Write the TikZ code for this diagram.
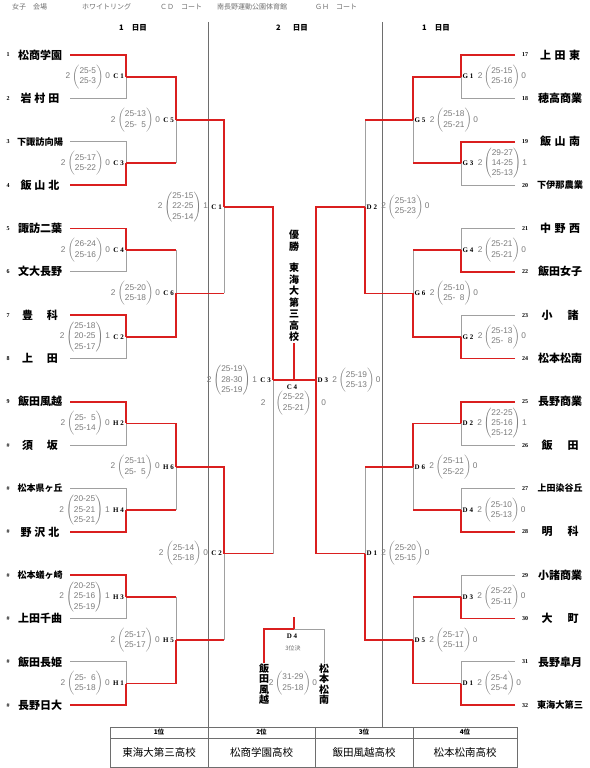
\documentclass[tikz,border=0pt]{standalone}
\usepackage{fontspec}
\setmainfont{Liberation Serif}
\setsansfont{Liberation Sans}
\newfontfamily\jp{Noto Sans CJK JP}
\usetikzlibrary{positioning}

\definecolor{winred}{HTML}{DA1F1F}
\definecolor{losegray}{HTML}{A0A0A0}
\definecolor{scoregray}{HTML}{7A7A7A}
\definecolor{rulegray}{HTML}{6E6E6E}

\newcommand\scoreblk[4][2pt]{#2\hspace{#1}$\left(\begin{tabular}{@{}c@{}}#3\end{tabular}\right)$\hspace{#1}#4}
\newcommand\tname[2]{\makebox[#1][s]{#2}}

\begin{document}
\begin{tikzpicture}[
    x=1pt, y=-1pt,
    win/.style={draw=winred, line width=1.8pt},
    lose/.style={draw=losegray, line width=1pt},
    divider/.style={draw=rulegray, line width=0.5pt},
    team/.style={inner sep=0pt},
    tnum/.style={font=\bfseries\fontsize{6}{6}\selectfont, inner sep=0pt},
    mlab/.style={font=\bfseries\fontsize{7}{7}\selectfont, inner sep=0pt},
    score/.style={font=\sffamily\fontsize{8.3}{10.3}\selectfont, text=scoregray, inner sep=0pt},
    head/.style={font=\jp\fontsize{7}{7}\selectfont, text=rulegray, inner sep=0pt, anchor=west},
    day/.style={font=\jp\bfseries\fontsize{7.5}{7.5}\selectfont, inner sep=0pt},
    vtext/.style={font=\jp\bfseries\fontsize{10}{11.5}\selectfont, align=center, inner sep=0pt},
    cellh/.style={draw=rulegray, font=\jp\bfseries\fontsize{6.5}{6.5}\selectfont, minimum height=11, inner sep=0pt},
    cell/.style={draw=rulegray, font=\jp\fontsize{10.5}{10.5}\selectfont, minimum height=29, inner sep=0pt}
]
\useasboundingbox (0,0) rectangle (589,768);

% header
\node[head] (hdr1) at (12,7) {女子　会場};
\node[head] (hdr2) at (82,7) {ホワイトリング};
\node[head] (hdr3) at (160,7) {ＣＤ　コート};
\node[head] (hdr4) at (217,7) {南長野運動公園体育館};
\node[head] (hdr5) at (315,7) {ＧＨ　コート};
\node[day] (day1) at (133,28) {1\hspace{8pt}日目};
\node[day] (day2) at (292,28) {2\hspace{12pt}日目};
\node[day] (day3) at (436,28) {1\hspace{8pt}日目};

\draw[divider] (208,22) -- (208,727);
\draw[divider] (382,22) -- (382,727);

% teams
\foreach \nm/\bw/\fs [count=\i] in {
  松商学園/44/11, 岩\hfill 村\hfill 田/39/11, 下諏訪向陽/46/9.2, 飯\hfill 山\hfill 北/39/11,
  諏訪二葉/44/11, 文大長野/44/11, 豊\hfill 科/36/11, 上\hfill 田/36/11,
  飯田風越/44/11, 須\hfill 坂/36/11, 松本県ヶ丘/45/9, 野\hfill 沢\hfill 北/39/11,
  松本蟻ヶ崎/45/9, 上田千曲/44/11, 飯田長姫/44/11, 長野日大/44/11}{
  \pgfmathsetmacro\ty{55+(\i-1)*43.35}
  \node[team] (LN\i) at (40,\ty) {\jp\bfseries\fontsize{\fs}{\fs}\selectfont\tname{\bw pt}{\nm}};
  \coordinate (LT\i) at (70,\ty);
  \ifnum\i<10 \node[tnum] (LNo\i) at (8,\ty) {\i};\else \node[tnum] (LNo\i) at (8,\ty) {\#};\fi
}
\foreach \nm/\bw/\fs [count=\i from 17] in {
  上\hfill 田\hfill 東/40/11, 穂高商業/44/11, 飯\hfill 山\hfill 南/40/11, 下伊那農業/46/9.2,
  中\hfill 野\hfill 西/40/11, 飯田女子/44/11, 小\hfill 諸/37/11, 松本松南/44/11,
  長野商業/44/11, 飯\hfill 田/37/11, 上田染谷丘/45/9, 明\hfill 科/37/11,
  小諸商業/44/11, 大\hfill 町/37/11, 長野皐月/44/11, 東海大第三/46/9.2}{
  \pgfmathsetmacro\ty{55+(\i-17)*43.35}
  \node[team] (RN\i) at (560,\ty) {\jp\bfseries\fontsize{\fs}{\fs}\selectfont\tname{\bw pt}{\nm}};
  \coordinate (RT\i) at (515,\ty);
  \node[tnum] (RNo\i) at (525,\ty) {\i};
}

% junctions
\foreach \k in {1,...,8}{
  \coordinate (LA\k) at (126,{55+(2*\k-1.5)*43.35});
  \coordinate (RA\k) at (461,{55+(2*\k-1.5)*43.35});
}
\foreach \k in {1,...,4}{
  \coordinate (LB\k) at (176,{55+(4*\k-2.5)*43.35});
  \coordinate (RB\k) at (413,{55+(4*\k-2.5)*43.35});
}
\foreach \k in {1,2}{
  \coordinate (LC\k) at (224,{55+(8*\k-4.5)*43.35});
  \coordinate (RC\k) at (365,{55+(8*\k-4.5)*43.35});
}
\coordinate (LD) at (273,380.1);
\coordinate (RD) at (316,380.1);
\coordinate (F) at (294,380.1);
\coordinate (Ftop) at (294,343);

% losing branches
\foreach \t/\j in {LT2/LA1, LT3/LA2, LT6/LA3, LT8/LA4, LT10/LA5, LT11/LA6, LT14/LA7, LT15/LA8,
                   RT18/RA1, RT20/RA2, RT21/RA3, RT23/RA4, RT26/RA5, RT27/RA6, RT29/RA7, RT31/RA8}
  \draw[lose] (\t) -| (\j);
\foreach \a/\j in {LA2/LB1, LA3/LB2, LA6/LB3, LA7/LB4, LB2/LC1, LB4/LC2, LC2/LD,
                   RA2/RB1, RA3/RB2, RA6/RB3, RA7/RB4, RB1/RC1, RB3/RC2}{
  \draw[lose] (\a -| \j) -- (\j);
  \draw[win] (\a) -- (\a -| \j);
}
% winning branches
\foreach \t/\j in {LT1/LA1, LT4/LA2, LT5/LA3, LT7/LA4, LT9/LA5, LT12/LA6, LT13/LA7, LT16/LA8,
                   RT17/RA1, RT19/RA2, RT22/RA3, RT24/RA4, RT25/RA5, RT28/RA6, RT30/RA7, RT32/RA8,
                   LA1/LB1, LA4/LB2, LA5/LB3, LA8/LB4, LB1/LC1, LB3/LC2, LC1/LD,
                   RA1/RB1, RA4/RB2, RA5/RB3, RA8/RB4, RB2/RC1, RB4/RC2, RC1/RD, RC2/RD}
  \draw[win] (\t) -| (\j);
\draw[win] (LD) -- (RD);
\draw[win] (F) -- (Ftop);

% match codes and scores
\foreach \j/\lab/\pts/\b in {
  LA1/C 1/25-5\\25-3/0, LA2/C 3/25-17\\25-22/0, LA3/C 4/26-24\\25-16/0, LA4/C 2/25-18\\20-25\\25-17/1,
  LA5/H 2/25-\phantom{0}5\\25-14/0, LA6/H 4/20-25\\25-21\\25-21/1, LA7/H 3/20-25\\25-16\\25-19/1, LA8/H 1/25-\phantom{0}6\\25-18/0,
  LB1/C 5/25-13\\25-\phantom{0}5/0, LB2/C 6/25-20\\25-18/0, LB3/H 6/25-11\\25-\phantom{0}5/0, LB4/H 5/25-17\\25-17/0,
  LC1/C 1/25-15\\22-25\\25-14/1, LC2/C 2/25-14\\25-18/0, LD/C 3/25-19\\28-30\\25-19/1}{
  \node[mlab, anchor=east] (lab\j) at ([xshift=-2]\j) {\lab};
  \node[score, left=3pt of lab\j] (sc\j) {\scoreblk{2}{\pts}{\b}};
}
\foreach \j/\lab/\pts/\b in {
  RA1/G 1/25-15\\25-16/0, RA2/G 3/29-27\\14-25\\25-13/1, RA3/G 4/25-21\\25-21/0, RA4/G 2/25-13\\25-\phantom{0}8/0,
  RA5/D 2/22-25\\25-16\\25-12/1, RA6/D 4/25-10\\25-13/0, RA7/D 3/25-22\\25-11/0, RA8/D 1/25-4\\25-4/0,
  RB1/G 5/25-18\\25-21/0, RB2/G 6/25-10\\25-\phantom{0}8/0, RB3/D 6/25-11\\25-22/0, RB4/D 5/25-17\\25-11/0,
  RC1/D 2/25-13\\25-23/0, RC2/D 1/25-20\\25-15/0, RD/D 3/25-19\\25-13/0}{
  \node[mlab, anchor=west] (lab\j) at ([xshift=1.5]\j) {\lab};
  \node[score, right=4pt of lab\j] (sc\j) {\scoreblk[1.5pt]{2}{\pts}{\b}};
}

% final
\node[mlab] (labF) at (292,387) {C 4};
\node[score] (scF) at (293.5,403) {\scoreblk[10pt]{2}{25-22\\25-21}{0}};
\node[vtext] (champ) at (294,240.5) {優\\勝};
\node[vtext] (champname) at (294,302.5) {東\\海\\大\\第\\三\\高\\校};

% third place
\coordinate (P) at (294,629);
\coordinate (Ptop) at (294,617);
\node[vtext, font=\jp\bfseries\fontsize{10}{10.5}\selectfont] (thirdL) at (264,684) {飯\\田\\風\\越};
\node[vtext, font=\jp\bfseries\fontsize{10}{10.5}\selectfont] (thirdR) at (324,684) {松\\本\\松\\南};
\draw[win] (thirdL.north) |- (P);
\draw[win] (P) -- (Ptop);
\draw[lose] (P) -| (thirdR.north);
\node[mlab] (labP) at (292,636) {D 4};
\node[head, anchor=center, font=\jp\fontsize{6}{6}\selectfont] (labP2) at (293,648) {3位決};
\node[score] (scP) at (293,683) {\scoreblk[1.5pt]{2}{31-29\\25-18}{0}};

% standings
\foreach \cx/\cw/\rk/\sch [count=\i] in {159/98/1位/東海大第三高校, 261.5/107/2位/松商学園高校,
                                          364/98/3位/飯田風越高校, 465/104/4位/松本松南高校}{
  \node[cellh, minimum width=\cw] (rank\i) at (\cx,732.5) {\rk};
  \node[cell, minimum width=\cw] (place\i) at (\cx,752.5) {\sch};
}
\end{tikzpicture}
\end{document}
